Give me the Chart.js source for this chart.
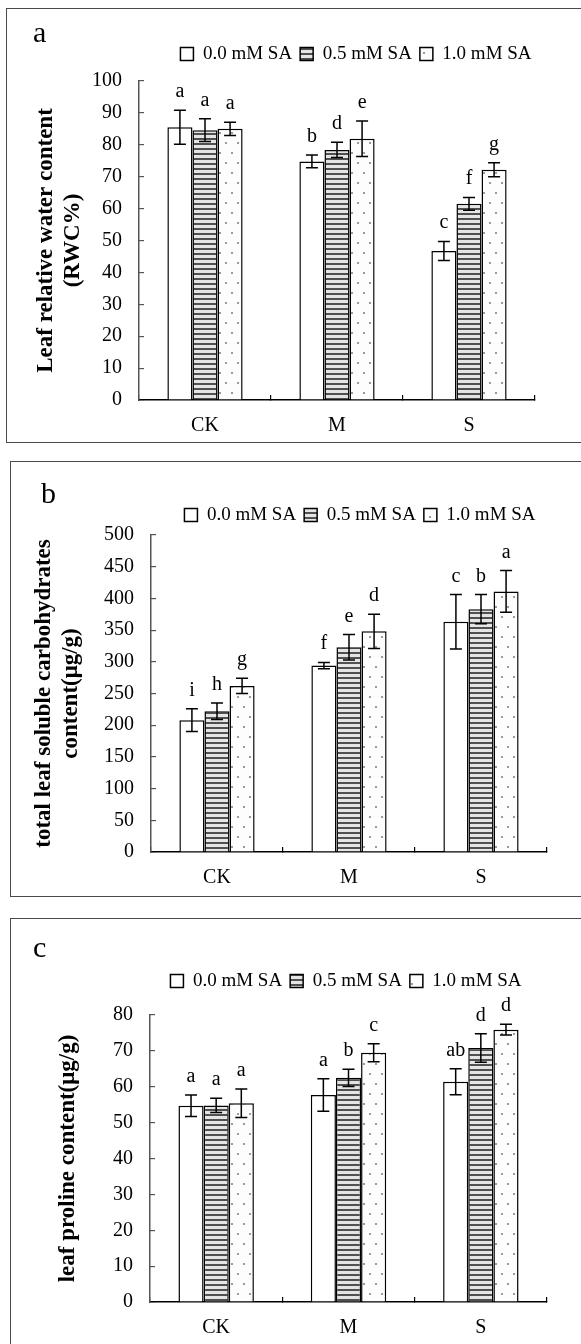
<!DOCTYPE html>
<html>
<head>
<meta charset="utf-8">
<title>SA and leaf RWC, soluble carbohydrates, proline</title>
<script src="https://cdn.jsdelivr.net/npm/chart.js@4.4.1/dist/chart.umd.min.js"></script>
<style>
  html, body { margin: 0; padding: 0; background: #fff; }
  body { position: relative; width: 581px; height: 1344px; overflow: hidden; font-family: "Liberation Serif", "Times New Roman", serif; }
  canvas { position: absolute; left: 0; }
  .frame { position: absolute; box-sizing: border-box; border: 1.5px solid #4a4a4a; pointer-events: none; }
  .tag { position: absolute; font-size: 30px; line-height: 30px; color: #000; }
</style>
</head>
<body>
<canvas id="rwc" width="581" height="434" style="top:8px"></canvas>
<canvas id="carb" width="581" height="434" style="top:462px"></canvas>
<canvas id="pro" width="581" height="425" style="top:919px"></canvas>
<div class="frame" style="left:6px;top:8px;width:600px;height:435px"></div>
<div class="frame" style="left:10px;top:461px;width:600px;height:436px"></div>
<div class="frame" style="left:10px;top:918px;width:600px;height:500px"></div>
<div class="tag" style="left:33px;top:17px">a</div>
<div class="tag" style="left:41px;top:478px">b</div>
<div class="tag" style="left:33px;top:932px">c</div>
<script>
const groups = ["CK", "M", "S"];
const saLevels = ["0.0 mM SA", "0.5 mM SA", "1.0 mM SA"];

// (a) leaf relative water content (RWC%)
const rwcSA00 = [85.5, 74.8, 46.7];
const rwcSA05 = [84.6, 78.4, 61.5];
const rwcSA10 = [85.0, 81.9, 72.2];
const rwcErr00 = [5.3, 2.0, 3.0];
const rwcErr05 = [3.6, 2.4, 2.0];
const rwcErr10 = [2.1, 5.6, 2.2];
const rwcSig00 = ["a", "b", "c"];
const rwcSig05 = ["a", "d", "f"];
const rwcSig10 = ["a", "e", "g"];
const rwcMax = 100, rwcStep = 10;

// (b) total leaf soluble carbohydrates (ug/g)
const carbSA00 = [208, 294, 363];
const carbSA05 = [222, 323, 383];
const carbSA10 = [262, 348, 411];
const carbErr00 = [18, 5, 43];
const carbErr05 = [13, 20, 23];
const carbErr10 = [12, 27, 33];
const carbSig00 = ["i", "f", "c"];
const carbSig05 = ["h", "e", "b"];
const carbSig10 = ["g", "d", "a"];
const carbMax = 500, carbStep = 50;

// (c) leaf proline (ug/g)
const proSA00 = [54.7, 57.7, 61.4];
const proSA05 = [54.8, 62.5, 70.8];
const proSA10 = [55.4, 69.5, 75.9];
const proErr00 = [3.0, 4.5, 3.6];
const proErr05 = [2.0, 2.4, 4.0];
const proErr10 = [4.0, 2.5, 1.5];
const proSig00 = ["a", "a", "ab"];
const proSig05 = ["a", "b", "d"];
const proSig10 = ["a", "c", "d"];
const proMax = 80, proStep = 10;

Chart.defaults.font.family = '"Liberation Serif", "Times New Roman", serif';
Chart.defaults.color = "#000";

function stripeFill() {
    let c = document.createElement("canvas");
    c.width = 8; c.height = 5;
    let g = c.getContext("2d");
    g.fillStyle = "#e4e4e4"; g.fillRect(0, 0, 8, 5);
    g.fillStyle = "#505050"; g.fillRect(0, 0, 8, 2);
    return g.createPattern(c, "repeat");
}
function dotFill() {
    let c = document.createElement("canvas");
    c.width = 12; c.height = 20;
    let g = c.getContext("2d");
    g.fillStyle = "#fdfdfd"; g.fillRect(0, 0, 12, 20);
    g.fillStyle = "#9a9a9a";
    g.fillRect(3, 4, 2, 2);
    g.fillRect(9, 14, 2, 2);
    return g.createPattern(c, "repeat");
}
const fills = ["#ffffff", stripeFill(), dotFill()];

// error bars + significance letters, placed with the y scale
const errorBars = {
    id: "errorBars",
    afterDatasetsDraw(chart) {
        let ctx = chart.ctx;
        let y = chart.scales.y;
        ctx.save();
        chart.data.datasets.forEach((ds, i) => {
            chart.getDatasetMeta(i).data.forEach((bar, j) => {
                let hi = y.getPixelForValue(ds.data[j] + ds.errors[j]);
                let lo = y.getPixelForValue(ds.data[j] - ds.errors[j]);
                let x = bar.x;
                ctx.strokeStyle = "#000";
                ctx.lineWidth = 1.5;
                ctx.beginPath();
                ctx.moveTo(x, hi); ctx.lineTo(x, lo);
                ctx.moveTo(x - 6, hi); ctx.lineTo(x + 6, hi);
                ctx.moveTo(x - 6, lo); ctx.lineTo(x + 6, lo);
                ctx.stroke();
                ctx.fillStyle = "#000";
                ctx.font = '20px "Liberation Serif"';
                ctx.textAlign = "center";
                ctx.textBaseline = "alphabetic";
                ctx.fillText(ds.letters[j], x, hi - 13);
            });
        });
        ctx.restore();
    }
};

// shift the legend box to where the original had it
const moveLegend = {
    id: "moveLegend",
    afterLayout(chart, args, opts) {
        let lg = chart.legend;
        let dx = opts.cx - (lg.left + lg.right) / 2;
        let dy = opts.cy - (lg.top + lg.height / 2);
        lg.left += dx; lg.right += dx;
        lg.top += dy; lg.bottom += dy;
    }
};

function makeChart(id, values, errors, letters, yMax, yStep, title, box) {
    let datasets = values.map((vals, i) => ({
        label: saLevels[i],
        data: vals,
        errors: errors[i],
        letters: letters[i],
        backgroundColor: fills[i],
        borderColor: "#000",
        borderWidth: 1.5,
        categoryPercentage: 0.57,
        barPercentage: 1
    }));
    return new Chart(document.getElementById(id), {
        type: "bar",
        data: { labels: groups, datasets: datasets },
        options: {
            responsive: false,
            animation: false,
            devicePixelRatio: 1,
            layout: {
                autoPadding: false,
                padding: { left: 0, right: box.padR, top: box.padT, bottom: 0 }
            },
            plugins: {
                tooltip: { enabled: false },
                legend: {
                    position: "top",
                    labels: {
                        boxWidth: 13, boxHeight: 13, padding: 8,
                        color: "#000",
                        font: { size: 19 }
                    }
                },
                moveLegend: { cx: box.legendX, cy: box.legendY }
            },
            scales: {
                x: {
                    grid: { drawOnChartArea: false, drawTicks: true, tickLength: -5, color: "#000", lineWidth: 1.2 },
                    border: { color: "#000", width: 1.5 },
                    ticks: { padding: 19, color: "#000", font: { size: 20 } },
                    afterFit: (s) => { s.height = box.xH; }
                },
                y: {
                    min: 0,
                    max: yMax,
                    ticks: { stepSize: yStep, padding: 22, color: "#000", font: { size: 20 } },
                    grid: { drawOnChartArea: false, drawTicks: true, tickLength: -5, color: "#555", lineWidth: 1.2 },
                    border: { color: "#555", width: 1.5 },
                    title: {
                        display: true,
                        text: title,
                        color: "#000",
                        font: { size: 23, weight: "bold", lineHeight: 1.17 },
                        padding: { top: box.titlePad, bottom: 0 }
                    },
                    afterFit: (s) => { s.width = box.yW; }
                }
            }
        },
        plugins: [errorBars, moveLegend]
    });
}

makeChart("rwc",
    [rwcSA00, rwcSA05, rwcSA10],
    [rwcErr00, rwcErr05, rwcErr10],
    [rwcSig00, rwcSig05, rwcSig10],
    rwcMax, rwcStep,
    ["Leaf relative water content", "(RWC%)"],
    { padT: 36, padR: 46, yW: 139, xH: 42, titlePad: 32.5, legendX: 356, legendY: 47 });

makeChart("carb",
    [carbSA00, carbSA05, carbSA10],
    [carbErr00, carbErr05, carbErr10],
    [carbSig00, carbSig05, carbSig10],
    carbMax, carbStep,
    ["total leaf soluble carbohydrates", "content(μg/g)"],
    { padT: 36, padR: 34, yW: 151, xH: 44, titlePad: 30.5, legendX: 360, legendY: 54 });

makeChart("pro",
    [proSA00, proSA05, proSA10],
    [proErr00, proErr05, proErr10],
    [proSig00, proSig05, proSig10],
    proMax, proStep,
    "leaf proline content(μg/g)",
    { padT: 59, padR: 34, yW: 150, xH: 42, titlePad: 54.5, legendX: 346, legendY: 63 });
</script>
</body>
</html>
